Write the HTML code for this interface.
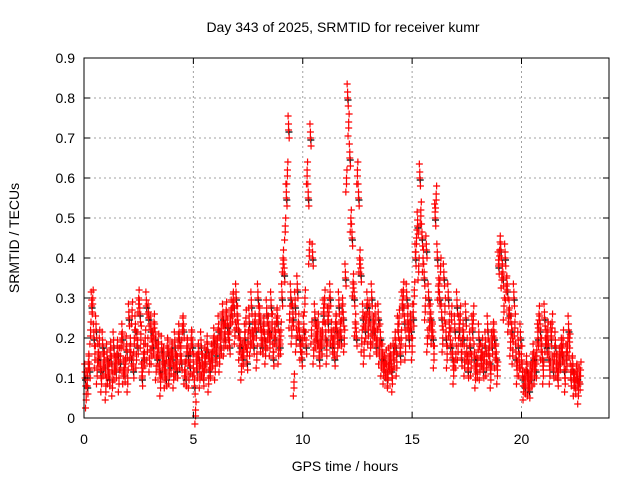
<!DOCTYPE html>
<html><head><meta charset="utf-8"><style>
body{margin:0;background:#fff}
svg{display:block;font-family:"Liberation Sans",sans-serif;font-size:14px}
</style></head><body>
<svg id="c" width="640" height="480">
<rect width="640" height="480" fill="#fff"/>
<g id="grid"></g><g id="pts"></g><g id="axes"></g>
<text x="343" y="32" text-anchor="middle">Day 343 of 2025, SRMTID for receiver kumr</text>
<text x="345" y="471" text-anchor="middle">GPS time / hours</text>
<text transform="translate(19,238) rotate(-90)" text-anchor="middle">SRMTID / TECUs</text>
</svg>
<script>
const xTicks=[0,5,10,15,20];
const yTicks=[0,0.1,0.2,0.3,0.4,0.5,0.6,0.7,0.8,0.9];
const yTickLabels=["0","0.1","0.2","0.3","0.4","0.5","0.6","0.7","0.8","0.9"];
const valsA=[0.10,0.08,0.12,0.28,0.20,0.22,0.15,0.12,0.18,0.13,
0.15,0.10,0.14,0.18,0.12,0.16,0.14,0.20,0.11,0.17,
0.25,0.15,0.12,0.22,0.18,0.26,0.10,0.15,0.28,0.25,
0.22,0.18,0.20,0.15,0.12,0.17,0.14,0.10,0.16,0.13,
0.15,0.18,0.12,0.20,0.14,0.22,0.10,0.16,0.13,0.18,
0.08,0.12,0.15,0.18,0.10,0.14,0.17,0.12,0.15,0.19,
0.16,0.22,0.18,0.25,0.20,0.23,0.18,0.26,0.28,0.30,
0.22,0.18,0.15,0.20,0.14,0.24,0.28,0.18,0.22,0.30,
0.24,0.18,0.20,0.26,0.22,0.28,0.15,0.20,0.24,0.18,
0.30,0.36,0.55,0.72,0.30,0.25,0.28,0.32,0.20,0.15,
0.22,0.18,0.55,0.70,0.40,0.25,0.20,0.15,0.18,0.26,
0.20,0.24,0.30,0.18,0.15,0.22,0.28,0.20,0.25,0.35,
0.80,0.65,0.45,0.30,0.20,0.55,0.36,0.25,0.22,0.28,
0.25,0.30,0.22,0.18,0.25,0.20,0.15,0.12,0.10,0.14,
0.12,0.15,0.18,0.22,0.16,0.28,0.24,0.30,0.20,0.22,
0.25,0.40,0.48,0.60,0.45,0.35,0.42,0.30,0.25,0.20,
0.50,0.40,0.30,0.25,0.35,0.20,0.30,0.18,0.15,0.22,
0.28,0.22,0.15,0.20,0.25,0.12,0.18,0.22,0.15,0.12,
0.20,0.15,0.12,0.18,0.22,0.14,0.18,0.20,0.15,0.38,
0.42,0.35,0.40,0.32,0.26,0.22,0.30,0.15,0.18,0.20,
0.10,0.08,0.12,0.07,0.10,0.15,0.12,0.20,0.22,0.15,
0.25,0.18,0.15,0.20,0.12,0.18,0.10,0.14,0.16,0.12,
0.15,0.22,0.10,0.12,0.08,0.10,0.09];
const valsB=[0.06,0.14,0.22,0.30,0.16,0.12,0.20,0.10,0.14,0.08,
0.12,0.17,0.09,0.13,0.16,0.10,0.19,0.12,0.15,0.10,
0.18,0.27,0.20,0.16,0.30,0.21,0.14,0.20,0.18,0.15,
0.17,0.24,0.13,0.19,0.09,0.14,0.11,0.18,0.12,0.17,
0.11,0.14,0.19,0.16,0.23,0.12,0.18,0.11,0.20,0.14,
0.02,0.16,0.11,0.14,0.13,0.17,0.10,0.14,0.18,0.13,
0.20,0.15,0.24,0.19,0.27,0.21,0.25,0.29,0.22,0.26,
0.18,0.13,0.17,0.25,0.20,0.19,0.22,0.24,0.16,0.26,
0.20,0.23,0.17,0.21,0.19,0.24,0.20,0.25,0.17,0.22,
0.40,0.48,0.62,0.26,0.22,0.09,0.20,0.24,0.18,0.20,
0.30,0.62,0.42,0.22,0.17,0.21,0.24,0.19,0.22,0.30,
0.17,0.28,0.22,0.20,0.24,0.19,0.22,0.28,0.20,0.60,
0.74,0.50,0.34,0.24,0.62,0.40,0.20,0.17,0.26,0.22,
0.19,0.22,0.26,0.20,0.17,0.14,0.12,0.15,0.11,0.16,
0.10,0.18,0.14,0.25,0.20,0.32,0.18,0.26,0.24,0.18,
0.32,0.45,0.38,0.52,0.40,0.28,0.20,0.24,0.22,0.16,
0.56,0.33,0.38,0.20,0.28,0.16,0.24,0.26,0.12,0.16,
0.18,0.26,0.20,0.14,0.18,0.16,0.14,0.26,0.11,0.15,
0.13,0.18,0.16,0.14,0.17,0.11,0.22,0.16,0.12,0.42,
0.36,0.28,0.33,0.25,0.19,0.17,0.24,0.12,0.14,0.16,
0.08,0.12,0.09,0.11,0.14,0.12,0.17,0.26,0.18,0.12,
0.20,0.22,0.12,0.24,0.16,0.14,0.13,0.18,0.20,0.10,
0.18,0.19,0.13,0.09,0.11,0.07,0.12];
const X0=84,X1=609,Y0=418,Y1=58;
const xs=h=>X0+(h/24)*(X1-X0);
const ys=v=>Y0-(v/0.9)*(Y0-Y1);
const NS="http://www.w3.org/2000/svg";
function mk(tag,attrs,parent){const e=document.createElementNS(NS,tag);for(const k in attrs)e.setAttribute(k,attrs[k]);parent.appendChild(e);return e;}
const grid=document.getElementById('grid'),axes=document.getElementById('axes'),pts=document.getElementById('pts');
yTicks.forEach((v,i)=>{const y=ys(v);
 if(i>0&&i<yTicks.length-1){const g=mk('line',{x1:X0,x2:X1,y1:y,y2:y,stroke:'#a0a0a0','stroke-dasharray':'2,3'},grid);
 
 }
 mk('line',{x1:X0,x2:X0+6,y1:y,y2:y,stroke:'#000'},axes);mk('line',{x1:X1,x2:X1-6,y1:y,y2:y,stroke:'#000'},axes);
 const t=mk('text',{x:X0-9,y:y+5,'text-anchor':'end'},axes);t.textContent=yTickLabels[i];
 
 });
xTicks.forEach(h=>{const x=xs(h);
 if(h>0){const g=mk('line',{x1:x,x2:x,y1:Y0,y2:Y1,stroke:'#a0a0a0','stroke-dasharray':'2,3'},grid);
 
 }
 mk('line',{x1:x,x2:x,y1:Y0,y2:Y0-6,stroke:'#000'},axes);mk('line',{x1:x,x2:x,y1:Y1,y2:Y1+6,stroke:'#000'},axes);
 const t=mk('text',{x:x,y:Y0+26,'text-anchor':'middle'},axes);t.textContent=h;
 
 });
const fr=mk('rect',{x:X0,y:Y1,width:X1-X0,height:Y0-Y1,fill:'none',stroke:'#000'},axes);


function plus(h,v,col){const x=xs(h),y=ys(v);
 const p=mk('path',{d:`M${x-3.5},${y}h7M${x},${y-3.5}v7`,stroke:col,'stroke-width':1.2,fill:'none'},pts);
 
 }
valsA.forEach((v,i)=>{plus(0.07+i*0.1,v-0.005,'#000');});
valsA.forEach((v,i)=>{const h=0.05+i*0.1;plus(h,v,'#f00');plus(h,v+0.015,'#f00');plus(h+0.03,v-0.02,'#f00');plus(h-0.02,v+0.035,'#f00');});
valsB.forEach((v,i)=>{const h=0.1+i*0.1;plus(h,v,'#f00');plus(h,v-0.015,'#f00');plus(h+0.02,v+0.02,'#f00');plus(h-0.03,v-0.035,'#f00');});
</script>
</body></html>
